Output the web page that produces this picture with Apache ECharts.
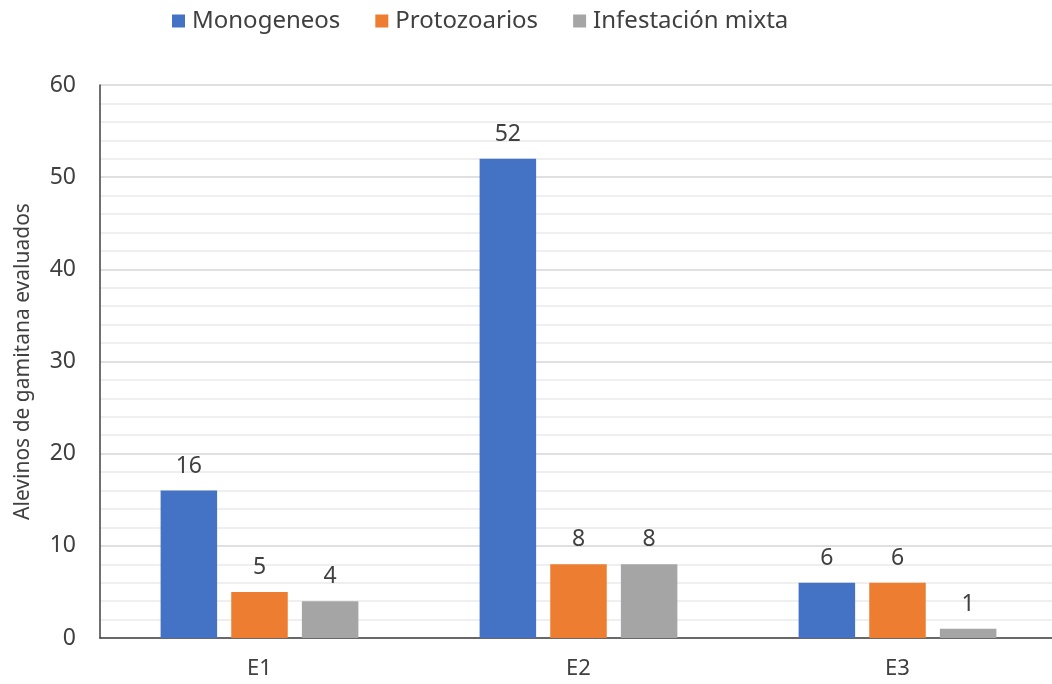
<!DOCTYPE html>
<html>
<head>
<meta charset="utf-8">
<script src="https://cdn.jsdelivr.net/npm/echarts@6/dist/echarts.min.js"></script>
<style>html,body{margin:0;padding:0;background:#fff;overflow:hidden;width:1052px;height:684px;}#c{width:1060px;height:684px;}</style>
</head>
<body>
<div id="c"></div>
<script>
const categories = ['E1', 'E2', 'E3'];
const monogeneos = [16, 52, 6];
const protozoarios = [5, 8, 6];
const mixta = [4, 8, 1];
const seriesNames = ['Monogeneos', 'Protozoarios', 'Infestación mixta'];
const colors = ['#4472C4', '#ED7D31', '#A5A5A5'];
const yAxisName = 'Alevinos de gamitana evaluados';

const font = 'Noto Sans';
const chart = echarts.init(document.getElementById('c'));
const label = { show: true, position: 'top', distance: 13, fontSize: 23, color: '#404040', fontFamily: font };
chart.setOption({
  animation: false,
  color: colors,
  legend: {
    top: 4, left: 167, itemWidth: 13, itemHeight: 13, itemGap: 35,
    icon: 'rect',
    textStyle: { fontSize: 24, color: '#404040', fontFamily: font, padding: [0, 0, 0, 2] },
    data: seriesNames
  },
  grid: { left: 100, right: 3, top: 85, bottom: 46, containLabel: false },
  xAxis: {
    type: 'category', data: categories,
    axisLine: { lineStyle: { color: '#404040', width: 1.5 } },
    axisTick: { show: false },
    axisLabel: { fontSize: 22, color: '#404040', fontFamily: font, margin: 20 }
  },
  yAxis: {
    type: 'value', min: 0, max: 60, interval: 10,
    name: yAxisName, nameLocation: 'middle', nameGap: 66, nameRotate: 90,
    nameTextStyle: { fontSize: 21, color: '#404040', fontFamily: font },
    axisLine: { show: true, lineStyle: { color: '#404040', width: 1.5 } },
    axisTick: { show: false },
    axisLabel: { fontSize: 23, color: '#404040', fontFamily: font, margin: 24 },
    splitLine: { lineStyle: { color: '#D6D6D6', width: 1.5 } },
    minorTick: { show: false, splitNumber: 5 },
    minorSplitLine: { show: true, lineStyle: { color: '#EAEAEA', width: 1.5 } }
  },
  series: [
    { name: seriesNames[0], type: 'bar', data: monogeneos, barGap: '25%', barCategoryGap: '38%', label },
    { name: seriesNames[1], type: 'bar', data: protozoarios, label },
    { name: seriesNames[2], type: 'bar', data: mixta, label }
  ]
});
</script>
</body>
</html>
